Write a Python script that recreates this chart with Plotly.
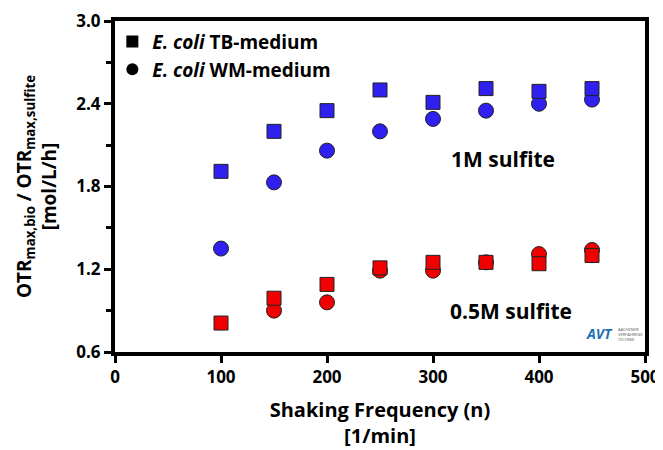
import plotly.graph_objects as go

freq = [100, 150, 200, 250, 300, 350, 400, 450]
tb_1m = [1.91, 2.20, 2.35, 2.50, 2.41, 2.51, 2.49, 2.51]
wm_1m = [1.35, 1.83, 2.06, 2.20, 2.29, 2.35, 2.40, 2.43]
tb_05m = [0.81, 0.99, 1.09, 1.21, 1.25, 1.25, 1.24, 1.30]
freq_wm05 = [150, 200, 250, 300, 350, 400, 450]
wm_05m = [0.90, 0.96, 1.19, 1.19, 1.25, 1.31, 1.34]

x_ticks = [0, 100, 200, 300, 400, 500]
y_ticks = [0.6, 1.2, 1.8, 2.4, 3.0]

FONT = "Open Sans"
blue = "#2f20f0"
red = "#f00000"

fig = go.Figure()
def add(x, y, sym, col, size):
    fig.add_trace(go.Scatter(x=x, y=y, mode="markers", showlegend=False,
                             marker=dict(symbol=sym, color=col, size=size,
                                         line=dict(color="#222", width=1))))
add(freq, wm_1m, "circle", blue, 15)
add(freq, tb_1m, "square", blue, 14)
add(freq_wm05, wm_05m, "circle", red, 15)
add(freq, tb_05m, "square", red, 14)

fig.add_trace(go.Scatter(x=[None], y=[None], mode="markers", name="<b><i>E. coli</i> TB-medium</b>",
                         marker=dict(symbol="square", color="black", size=14)))
fig.add_trace(go.Scatter(x=[None], y=[None], mode="markers", name="<b><i>E. coli</i> WM-medium</b>",
                         marker=dict(symbol="circle", color="black", size=16)))

fig.add_annotation(x=366, y=2.0, text="<b>1M sulfite</b>", showarrow=False,
                   font=dict(size=21, color="black", family=FONT))
fig.add_annotation(x=374, y=0.9, text="<b>0.5M sulfite</b>", showarrow=False,
                   font=dict(size=21, color="black", family=FONT))
# small AVT logo (text)
fig.add_annotation(x=0.885, y=0.02, xref="paper", yref="paper", xanchor="left", yanchor="bottom",
                   text="<b><i>AVT</i></b>", showarrow=False,
                   font=dict(size=14, color="#1f6fb4", family=FONT))
fig.add_annotation(x=0.945, y=0.025, xref="paper", yref="paper", xanchor="left", yanchor="bottom",
                   text="AACHENER<br>VERFAHRENS<br>TECHNIK", showarrow=False, align="left",
                   font=dict(size=4, color="#555", family=FONT))

axis_common = dict(showline=True, linecolor="black", linewidth=4, mirror=True,
                   ticks="outside", ticklen=7, tickwidth=3, tickcolor="black",
                   showgrid=False, zeroline=False, automargin=False,
                   tickfont=dict(size=17, color="black", family=FONT))

fig.update_layout(
    width=655, height=442,
    margin=dict(l=107, r=18, t=13, b=98),
    plot_bgcolor="white", paper_bgcolor="white",
    font=dict(family=FONT, color="black"),
    xaxis=dict(range=[0, 500], tickvals=x_ticks,
               ticktext=["<b>%d</b>" % v for v in x_ticks], **axis_common,
               title=dict(text="<b>Shaking Frequency (n)<br>[1/min]</b>",
                          font=dict(size=20, family=FONT, color="black"), standoff=17)),
    yaxis=dict(range=[0.6, 3.0], tickvals=y_ticks,
               ticktext=["<b>%.1f</b>" % v for v in y_ticks], **axis_common,
               minor=dict(dtick=0.3, ticks="outside", ticklen=5, tickwidth=3, tickcolor="black"),
               title=dict(text="<b>OTR<sub>max,bio</sub> / OTR<sub>max,sulfite</sub><br>[mol/L/h]</b>",
                          font=dict(size=19, family=FONT, color="black"), standoff=16)),
    legend=dict(x=-0.005, y=0.995, xanchor="left", yanchor="top", bgcolor="rgba(0,0,0,0)",
                font=dict(size=19, family=FONT, color="black"),
                itemsizing="constant", tracegroupgap=0),
)

fig.write_html("out.html")
